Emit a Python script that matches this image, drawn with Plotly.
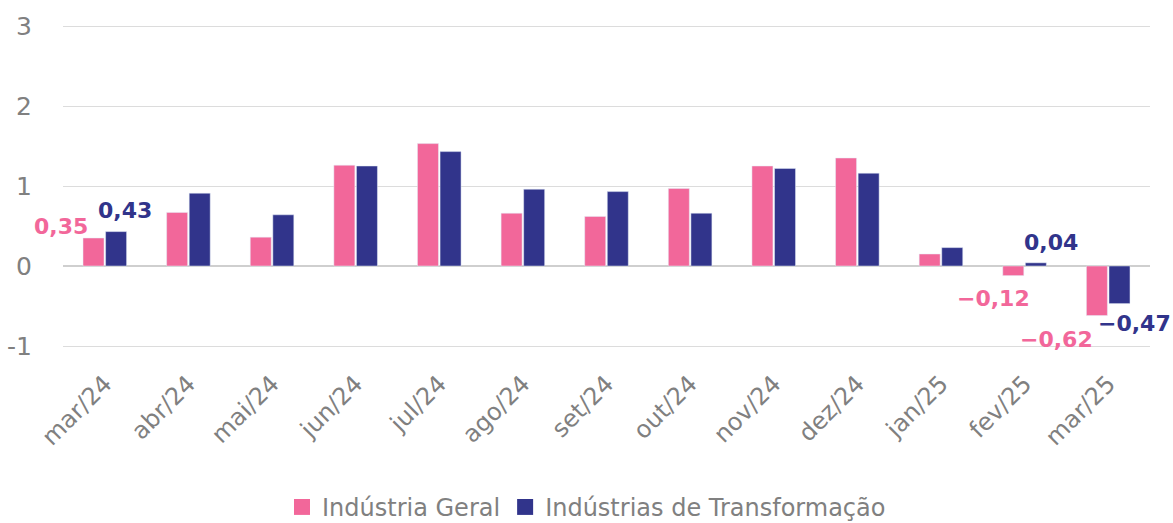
import plotly.graph_objects as go

categories = ["mar/24", "abr/24", "mai/24", "jun/24", "jul/24", "ago/24", "set/24",
              "out/24", "nov/24", "dez/24", "jan/25", "fev/25", "mar/25"]
geral = [0.35, 0.67, 0.36, 1.26, 1.53, 0.66, 0.62, 0.97, 1.25, 1.35, 0.15, -0.12, -0.62]
transf = [0.43, 0.91, 0.64, 1.25, 1.43, 0.96, 0.93, 0.66, 1.22, 1.16, 0.23, 0.04, -0.47]
series_names = ["Indústria Geral", "Indústrias de Transformação"]

pink = "#F2679A"
navy = "#31348B"
grey = "#808080"
font = "DejaVu Sans"

fig = go.Figure()
fig.add_trace(go.Bar(x=categories, y=geral, name=series_names[0], marker_color=pink,
                     showlegend=False, legendgroup="g"))
fig.add_trace(go.Bar(x=categories, y=transf, name=series_names[1], marker_color=navy,
                     showlegend=False, legendgroup="t"))
# legend entries with larger square swatches
for nm, col, grp in [(series_names[0], pink, "g"), (series_names[1], navy, "t")]:
    fig.add_trace(go.Scatter(x=[None], y=[None], mode="markers", name=nm, legendgroup=grp,
                             marker=dict(symbol="square", size=20, color=col)))

def fmt(v):
    return ("%.2f" % v).replace(".", ",").replace("-", "−")

# labelled points: (index, series values, color, xshift, yshift)
labels = [
    (0, geral, pink, -44, 12),
    (0, transf, navy, 20, 21),
    (11, geral, pink, -31, -23),
    (11, transf, navy, 26, 20),
    (12, geral, pink, -52, -24),
    (12, transf, navy, 26, -20),
]
for i, series, col, xs, ys in labels:
    fig.add_annotation(x=categories[i], y=series[i], text="<b>%s</b>" % fmt(series[i]),
                       showarrow=False, xshift=xs, yshift=ys,
                       font=dict(family=font, size=22, color=col))

fig.update_layout(
    width=1173, height=523,
    margin=dict(l=63, r=23, t=22, b=165),
    plot_bgcolor="white", paper_bgcolor="white",
    barmode="group", bargap=0.46, bargroupgap=0.07,
    font=dict(family=font, color=grey),
    legend=dict(orientation="h", x=0.5, xanchor="center", xref="container",
                y=0.03, yanchor="middle", yref="container", itemsizing="trace",
                font=dict(size=24, color=grey), traceorder="normal", itemwidth=30),
    showlegend=True,
)
fig.update_xaxes(type="category", range=[-0.5, 12.5], tickangle=-45,
                 tickfont=dict(size=24, color=grey), ticklabelstandoff=6,
                 showgrid=False, ticks="", showline=False, automargin=False)
fig.update_yaxes(range=[-1.15, 3.05], tickvals=[-1, 0, 1, 2, 3], ticktext=["-1", "0", "1", "2", "3"],
                 tickfont=dict(size=25, color=grey), gridcolor="#dcdcdc", gridwidth=1,
                 zeroline=True, zerolinecolor="#cfcfcf", zerolinewidth=2,
                 ticklabelstandoff=30, automargin=False)

fig.write_html("out.html")
